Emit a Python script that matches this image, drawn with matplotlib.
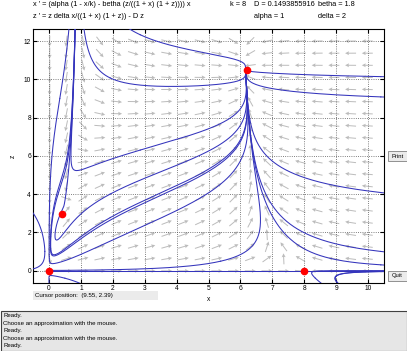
import numpy as np
import matplotlib
matplotlib.use('Agg')
import matplotlib.pyplot as plt
from matplotlib.patches import Rectangle

plt.rcParams['font.family'] = ['Liberation Sans', 'DejaVu Sans']

# parameters shown in the window
k = 8
D = 0.1493855916
betha = 1.8
alpha = 1
delta = 2

# display window
xlims = (-0.5, 10.5)
zlims = (-0.65, 12.63)
xticks = list(range(0, 11))
zticks = [0, 2, 4, 6, 8, 10, 12]

# equilibria (red dots)
eq_x = [0.0, 0.42, 6.2, 8.0]
eq_z = [0.0, 2.96, 10.5, 0.0]

# starting points of the drawn solutions
seed_x = [1.92, 2.86, 10.4, 10.4, 2.86, 1.92, 1.92, -0.13, 0.5, 5.38,
          0.34, 0.74, 10.4, 10.4, 10.4, 10.4, 8.35, 9.0, 4.0, 10.4]
seed_z = [10.07, 12.33, 10.14, 9.08, 6.3, 4.0, 2.77, 1.0, -0.4, 0.49,
          9.0, 9.0, 4.08, 1.0, 0.3, -0.05, -0.4, -0.3, 0.0, 0.0]


def field(x, z):
    xp = (alpha * (1 - x / k) - betha * (z / ((1 + x) * (1 + z)))) * x
    zp = z * delta * x / ((1 + x) * (1 + z)) - D * z
    return xp, zp


sx = xlims[1] - xlims[0]
sz = zlims[1] - zlims[0]


def unit(p, sign):
    xp, zp = field(p[0], p[1])
    v = np.array([xp / sx, zp / sz])
    n = np.hypot(v[0], v[1])
    if n < 1e-12:
        return None
    return sign * v / n * np.array([sx, sz])


def solve(x0, z0, sign, h=0.003, nmax=6000):
    p = np.array([x0, z0], dtype=float)
    pts = [p.copy()]
    for _ in range(nmax):
        k1 = unit(p, sign)
        if k1 is None:
            break
        k2 = unit(p + h / 2 * k1, sign)
        if k2 is None:
            break
        k3 = unit(p + h / 2 * k2, sign)
        if k3 is None:
            break
        k4 = unit(p + h * k3, sign)
        if k4 is None:
            break
        p = p + h / 6 * (k1 + 2 * k2 + 2 * k3 + k4)
        pts.append(p.copy())
        if not (xlims[0] - 0.05 < p[0] < xlims[1] + 0.05 and zlims[0] - 0.05 < p[1] < zlims[1] + 0.05):
            break
        d = np.hypot((np.array(eq_x) - p[0]) / sx, (np.array(eq_z) - p[1]) / sz)
        if d.min() < 0.004:
            break
    return np.array(pts)


fig = plt.figure(figsize=(4.07, 3.51), dpi=100)
fig.patch.set_facecolor('white')
ax = fig.add_axes([33 / 407, 1 - 283 / 351, 351 / 407, 254 / 351])

# direction field
gx = np.linspace(xlims[0], xlims[1], 22)[1:-1]
gz = np.linspace(zlims[0], zlims[1], 22)[1:-1]
GX, GZ = np.meshgrid(gx, gz)
U, V = field(GX, GZ)
U = U / sx
V = V / sz
N = np.hypot(U, V)
N[N == 0] = 1
ax.quiver(GX, GZ, U / N, V / N, color='#bcbcbc', pivot='middle', angles='xy',
          scale=32, width=0.0028, headwidth=4, headlength=4, headaxislength=3.5, zorder=1)

for x0, z0 in zip(seed_x, seed_z):
    for s in (1, -1):
        tr = solve(x0, z0, s)
        ax.plot(tr[:, 0], tr[:, 1], color='#3434bc', lw=0.75, zorder=3)

ax.plot(eq_x, eq_z, 'o', color='red', ms=4.5, zorder=5)

ax.set_xlim(xlims)
ax.set_ylim(zlims)
ax.set_xticks(xticks)
ax.set_yticks(zticks)
ax.grid(True, linestyle=':', color='#555555', lw=0.6)
ax.tick_params(direction='in', length=3, labelsize=4.8, top=True, right=True, pad=1.5)
for sp in ax.spines.values():
    sp.set_linewidth(0.8)
ax.set_xlabel('x', fontsize=4.8, labelpad=3)
ax.set_ylabel('z', fontsize=4.8, labelpad=5)

# header text
fs = 5.3
fig.text(33 / 407, 1 - 5 / 351, "x ' = (alpha (1 - x/k) - betha (z/((1 + x) (1 + z)))) x", fontsize=fs, va='center')
fig.text(33 / 407, 1 - 16 / 351, "z ' = z delta x/((1 + x) (1 + z)) - D z", fontsize=fs, va='center')
fig.text(230 / 407, 1 - 5 / 351, 'k = 8', fontsize=fs, va='center')
fig.text(254 / 407, 1 - 5 / 351, 'D = 0.1493855916', fontsize=fs, va='center')
fig.text(318 / 407, 1 - 5 / 351, 'betha = 1.8', fontsize=fs, va='center')
fig.text(254 / 407, 1 - 16 / 351, 'alpha = 1', fontsize=fs, va='center')
fig.text(318 / 407, 1 - 16 / 351, 'delta = 2', fontsize=fs, va='center')

# buttons on the right
for ytop, lab in [(151, 'Print'), (271, 'Quit')]:
    fig.patches.append(Rectangle((388 / 407, 1 - (ytop + 10) / 351), 30 / 407, 10 / 351,
                                 transform=fig.transFigure, facecolor='#ececec',
                                 edgecolor='#808080', lw=0.6))
    fig.text(392 / 407, 1 - (ytop + 5) / 351, lab, fontsize=4.2, va='center')

# cursor position box
mfs = 4.4
fig.patches.append(Rectangle((33 / 407, 1 - 300 / 351), 125 / 407, 9 / 351,
                             transform=fig.transFigure, facecolor='#ebebeb', edgecolor='none'))
fig.text(35 / 407, 1 - 296 / 351, 'Cursor position:  (9.55, 2.39)', fontsize=mfs, va='center')

# message box
fig.patches.append(Rectangle((0.5 / 407, 0), 406 / 407, 40 / 351,
                             transform=fig.transFigure, facecolor='#e6e6e6',
                             edgecolor='#404040', lw=0.8))
msgs = ['Ready.', 'Choose an approximation with the mouse.', 'Ready.',
        'Choose an approximation with the mouse.', 'Ready.']
for i, m in enumerate(msgs):
    fig.text(3 / 407, 1 - (315.5 + 7.6 * i) / 351, m, fontsize=mfs, va='center')

fig.savefig('out.png', dpi=100)
